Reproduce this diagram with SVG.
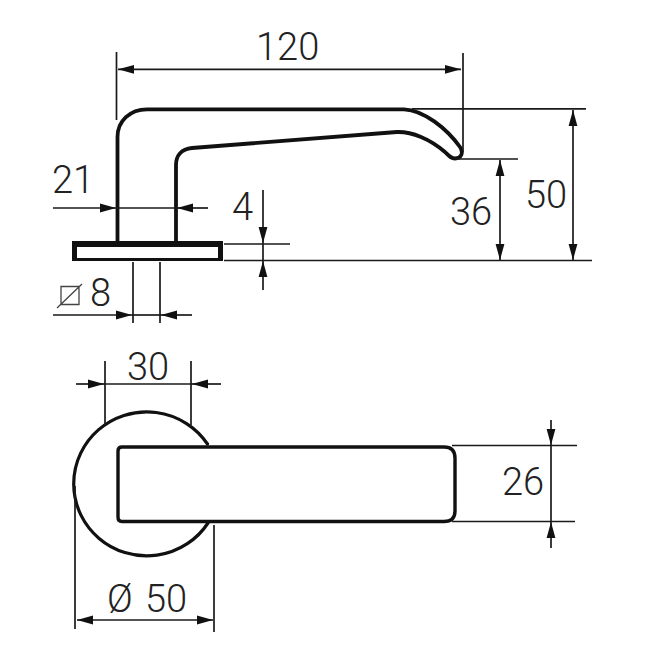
<svg xmlns="http://www.w3.org/2000/svg" width="646" height="646" viewBox="0 0 646 646">
<defs>
<style>
.o{fill:none;stroke:#111;stroke-width:3.8;stroke-linejoin:round;stroke-linecap:round}
.d{fill:none;stroke:#1a1a1a;stroke-width:1.7}
.a{marker-end:url(#ah)}
text{font-family:Roboto,"Liberation Sans",Arial,sans-serif;font-weight:300;font-size:38px;fill:#222}
</style>
<marker id="ah" markerUnits="userSpaceOnUse" markerWidth="17" markerHeight="10" viewBox="0 0 17 10" refX="16" refY="5" orient="auto"><path d="M0 .6L16 5L0 9.400Z" fill="#111"/></marker>
</defs>
<rect width="646" height="646" fill="#fff"/>
<g id="handle-side">
<path class="o" d="M117.500 241V137C117.500 121 130 109.300 147 109.300H404C424 110 447 129 460 147C464 153 461 158.500 455 158.500C451 158.500 449 156 445 152C430 139 412 131.500 397 132L192 148C181 149 176 156 176 165V241"/>
</g>
<g id="rose-side">
<path d="M72 241H223V261H72ZM77 247V258H218V247Z" fill="#111" fill-rule="evenodd"/>
</g>
<g id="rose-front">
<path class="o" d="M207.500 444A73 72 0 1 0 208 523" style="stroke-width:3.2"/>
</g>
<g id="handle-front">
<path class="o" d="M122 447H444Q455 447 455 458V511Q455 521.500 444 521.500H122Q118 521.500 118 517V451Q118 447 122 447Z" style="stroke-width:3.4"/>
</g>
<g id="connectors">
<path class="d" d="M116.500 52V120M463 53V152M412 108.800H586M455 159H518M224 244H290M224 260.500H592M133 262V323M160 262V323M105 361V425M191 361V425M75 486V629M214 525V632M452 445.500H577M452 521.500H575"/>
<path class="d a" d="M290 69.300H118"/><path class="d a" d="M290 69.300H461"/>
<path class="d a" d="M53 208H116"/><path class="d a" d="M208 208H177"/><path class="d" d="M116 208H177"/>
<path class="d a" d="M263 190V243"/><path class="d a" d="M263 290V261"/><path class="d" d="M263 243V261"/>
<path class="d a" d="M53 315H132"/><path class="d a" d="M192 315H161"/><path class="d" d="M132 315H161"/>
<path class="d a" d="M500 210V160"/><path class="d a" d="M500 210V260"/>
<path class="d a" d="M573 190V110"/><path class="d a" d="M573 190V260"/>
<path class="d a" d="M76 384H104"/><path class="d a" d="M221 384H192"/><path class="d" d="M104 384H192"/>
<path class="d a" d="M145 620H77"/><path class="d a" d="M145 620H213"/>
<path class="d a" d="M551 420V445"/><path class="d a" d="M551 548V522"/><path class="d" d="M551 445V522"/>
</g>
<g id="labels">
<text x="256" y="60">120</text>
<text x="52" y="193">21</text>
<text x="232" y="220">4</text>
<text x="90" y="306">8</text>
<path d="M61 286.500H79V304.500H61ZM57 308L82 284" fill="none" stroke="#444" stroke-width="1.300"/>
<text x="450" y="225">36</text>
<text x="525" y="208">50</text>
<text x="127" y="380">30</text>
<text x="107" y="612" word-spacing="3">Ø 50</text>
<text x="502" y="495">26</text>
</g>
</svg>
